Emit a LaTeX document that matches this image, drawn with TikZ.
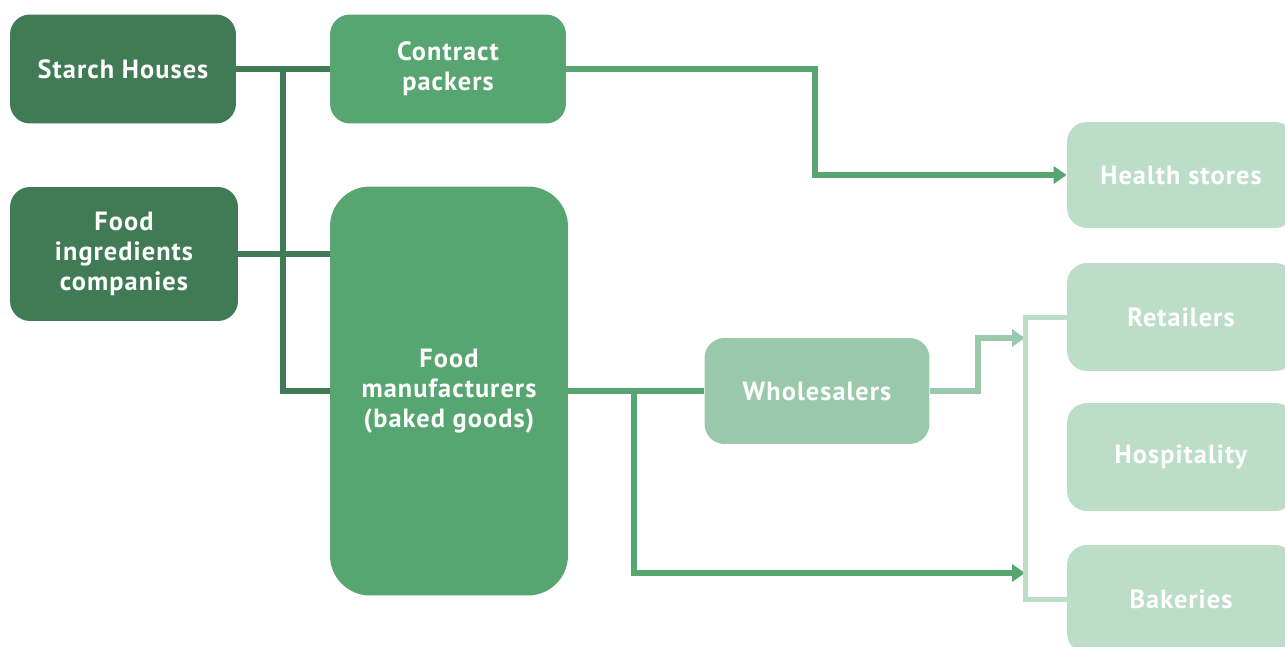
\documentclass[tikz,border=0pt]{standalone}
\usepackage{fontspec}
\setmainfont{PT Sans}[LetterSpace=4]
\usetikzlibrary{arrows.meta}
\definecolor{darkgr}{HTML}{417B55}
\definecolor{midgr}{HTML}{57A672}
\definecolor{lightgr}{HTML}{99C9AA}
\definecolor{palegr}{HTML}{BCDDC8}
\begin{document}
\begin{tikzpicture}[
    x=0.02cm, y=-0.02cm,
    box/.style={rounded corners=0.4cm, inner sep=0pt, text=white, align=center,
        font=\bfseries\fontsize{15}{17}\selectfont},
    dk/.style={draw=darkgr, line width=0.12cm},
    md/.style={draw=midgr, line width=0.12cm},
    lt/.style={draw=lightgr, line width=0.12cm},
    pl/.style={draw=palegr, line width=0.1cm},
    tip/.style={-{Triangle[length=0.26cm,width=0.34cm]}},
    ]
    \clip (0,0) rectangle (1285,646);
    % sources
    \node[box, fill=darkgr, minimum width=4.52cm, minimum height=2.18cm] (sh) at (123,69) {Starch Houses};
    \node[box, fill=darkgr, minimum width=4.56cm, minimum height=2.68cm] (fi) at (124,254) {Food\\ingredients\\companies};
    % processors
    \node[box, fill=midgr, minimum width=4.72cm, minimum height=2.18cm] (cp) at (448,69) {Contract\\packers};
    \node[box, fill=midgr, rounded corners=0.8cm, minimum width=4.76cm, minimum height=8.18cm] (fm) at (449,391) {Food\\manufacturers\\(baked goods)};
    \node[box, fill=lightgr, minimum width=4.5cm, minimum height=2.12cm] (ws) at (817,391) {Wholesalers};
    % outlets
    \node[box, fill=palegr, minimum width=4.56cm, minimum height=2.12cm] (hs) at (1181,175) {Health stores};
    \node[box, fill=palegr, minimum width=4.56cm, minimum height=2.16cm] (rt) at (1181,317) {Retailers};
    \node[box, fill=palegr, minimum width=4.56cm, minimum height=2.16cm] (hp) at (1181,457) {Hospitality};
    \node[box, fill=palegr, minimum width=4.56cm, minimum height=2.16cm] (bk) at (1181,599) {Bakeries};
    % junctions
    \coordinate (j1) at (283,69);
    \coordinate (j2) at (634,391);
    \coordinate (k1) at (815,0);
    \coordinate (k2) at (978,0);
    \coordinate (k3) at (1025,0);
    \coordinate (b1) at (1025,338);
    \coordinate (b2) at (1025,573);
    % connectors
    \draw[dk] (sh) -- (cp);
    \draw[dk] (fi) -- (fi -| fm.west);
    \draw[dk] (j1) |- (fm.west);
    \draw[md,tip] (cp.east) -- (cp.east -| k1) |- (hs.west);
    \draw[md] (fm) -- (ws);
    \draw[md,tip] (j2) |- (b2);
    \draw[lt,tip] (ws.east) -- (ws.east -| k2) |- (b1);
    \draw[pl] (rt.west) -- (rt.west -| k3) -- (bk.west -| k3) -- (bk.west);
\end{tikzpicture}
\end{document}
